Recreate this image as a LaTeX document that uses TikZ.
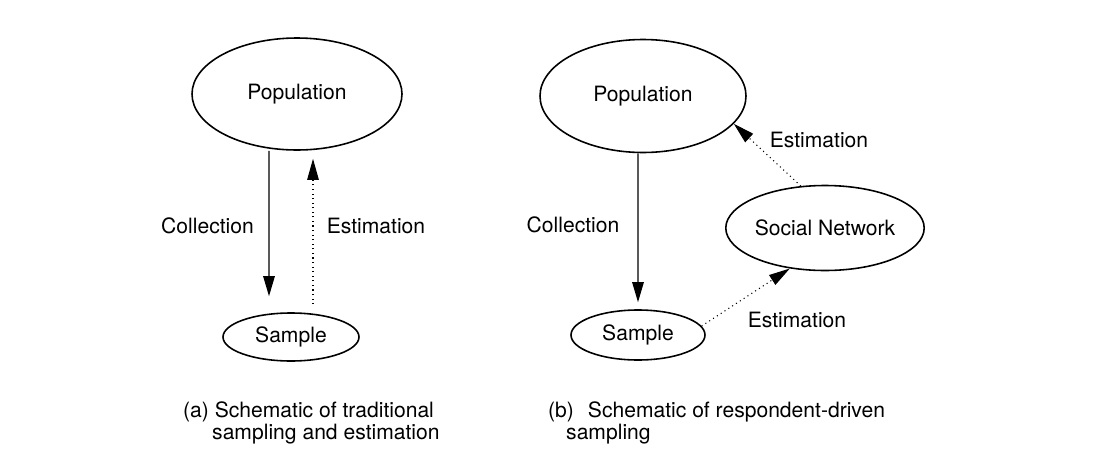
\documentclass[tikz,border=0pt]{standalone}
\usepackage{fontspec}
\setmainfont{TeX Gyre Heros}
\usetikzlibrary{shapes.geometric,arrows.meta}

\begin{document}
\begin{tikzpicture}[
    blob/.style={draw,ellipse,line width=0.9pt,inner sep=0pt},
    arr/.style={line width=0.7pt,-{Triangle[length=0.4cm,width=0.23cm]}},
    dotarr/.style={line width=0.6pt,dotted,-{Triangle[length=0.42cm,width=0.23cm]}},
    every node/.style={font=\fontsize{12}{12.5}\selectfont}]
            \useasboundingbox (0,0) rectangle (21.88,9.08);
            \node[blob,minimum width=4.2cm,minimum height=2.24cm] (popA) at (5.94,7.20) {Population};
            \node[blob,minimum width=2.72cm,minimum height=0.96cm] (sampA) at (5.82,2.34) {Sample};
            \node (colA) at (4.15,4.56) {Collection};
            \node (estA) at (7.52,4.56) {Estimation};
            \draw[arr,shorten >=0.32cm] ([xshift=-0.56cm]popA.south) -- ([xshift=-0.44cm]sampA.north);
            \draw[dotarr,shorten <=0.16cm,shorten >=0.16cm] ([xshift=0.44cm]sampA.north) -- ([xshift=0.32cm]popA.south);
            \node[blob,minimum width=4.12cm,minimum height=2.26cm] (popB) at (12.86,7.16) {Population};
            \node[blob,minimum width=2.68cm,minimum height=1.0cm] (sampB) at (12.76,2.38) {Sample};
            \node[blob,minimum width=3.56cm,minimum height=1.7cm] (netB) at (16.50,4.52) {Social Network};
            \node (colB) at (11.46,4.58) {Collection};
            \node (estB) at (16.38,6.28) {Estimation};
            \node (estC) at (15.94,2.68) {Estimation};
            \draw[arr,shorten >=0.14cm] ([xshift=-0.1cm]popB.south) -- (sampB.north);
            \draw[dotarr] (sampB.8) -- (netB.229);
            \draw[dotarr] (netB.120) -- (popB.343);
            \node[anchor=base west,align=left] (capA) at (3.54,0.30) {(a) Schematic of traditional\\\hspace*{0.58cm}sampling and estimation};
            \node[anchor=base west,align=left] (capB) at (10.84,0.30) {(b)\hspace{0.28cm}Schematic of respondent-driven\\\hspace*{0.36cm}sampling};
        \end{tikzpicture}
\end{document}
